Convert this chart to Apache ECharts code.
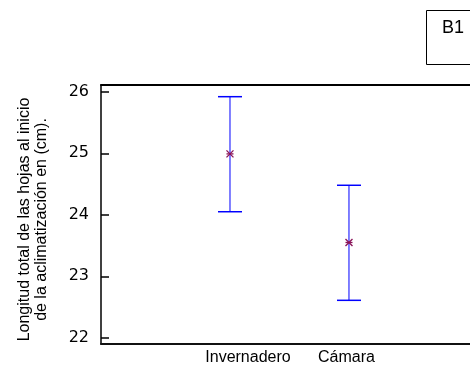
<!DOCTYPE html>
<html>
<head>
<meta charset="utf-8">
<script src="https://cdn.jsdelivr.net/npm/echarts@6/dist/echarts.min.js"></script>
<style>
html,body{margin:0;padding:0;background:#fff;}
#chart{width:470px;height:369px;}
</style>
</head>
<body>
<div id="chart"></div>
<script>
// ---- data ----
const categories = ['Invernadero', 'Cámara'];
const means = [24.99, 23.55];
const lowers = [24.05, 22.61];
const uppers = [25.92, 24.48];
const yTicks = [22, 23, 24, 25, 26];
const panelLabel = 'B1';
const yTitle = 'Longitud total de las hojas al inicio\nde la aclimatización en (cm).';

const FONT = 'Liberation Sans, Arial, sans-serif';
const xPos = categories.map((c, i) => i + 1);
const seriesData = categories.map((c, i) => [xPos[i], means[i], lowers[i], uppers[i]]);

function renderItem(params, api) {
  const x = api.value(0);
  const pm = api.coord([x, api.value(1)]);
  const pl = api.coord([x, api.value(2)]);
  const ph = api.coord([x, api.value(3)]);
  const cw = 12;
  const s = 3.5;
  const blue = '#0000ff';
  const star = '#8a1458';
  return {
    type: 'group',
    children: [
      {type: 'line', shape: {x1: pl[0], y1: pl[1], x2: ph[0], y2: ph[1]}, style: {stroke: blue, lineWidth: 1}},
      {type: 'line', shape: {x1: pl[0] - cw, y1: pl[1], x2: pl[0] + cw, y2: pl[1]}, style: {stroke: blue, lineWidth: 1.5}},
      {type: 'line', shape: {x1: ph[0] - cw, y1: ph[1], x2: ph[0] + cw, y2: ph[1]}, style: {stroke: blue, lineWidth: 1.5}},
      {type: 'line', shape: {x1: pm[0] - s, y1: pm[1] - s, x2: pm[0] + s, y2: pm[1] + s}, style: {stroke: star, lineWidth: 1.3}},
      {type: 'line', shape: {x1: pm[0] - s, y1: pm[1] + s, x2: pm[0] + s, y2: pm[1] - s}, style: {stroke: star, lineWidth: 1.3}},
      {type: 'line', shape: {x1: pm[0] - s, y1: pm[1], x2: pm[0] + s, y2: pm[1]}, style: {stroke: star, lineWidth: 1.3}}
    ]
  };
}

const chart = echarts.init(document.getElementById('chart'), null, {renderer: 'canvas'});
const xMin = -0.084, xMax = 3.017;
chart.setOption({
  animation: false,
  backgroundColor: '#fff',
  textStyle: {fontFamily: FONT},
  title: {
    text: panelLabel,
    left: 426, top: 11,
    padding: [9, 40, 27, 16],
    borderColor: '#000', borderWidth: 1,
    textStyle: {fontFamily: FONT, fontSize: 18, fontWeight: 'normal', color: '#000', lineHeight: 17}
  },
  grid: {left: 101, top: 85, right: 0, bottom: 25, containLabel: false},
  xAxis: [{
    type: 'value', min: xMin, max: xMax, position: 'bottom',
    splitLine: {show: false},
    axisLine: {show: true, lineStyle: {color: '#111', width: 2}},
    axisTick: {show: false},
    axisLabel: {
      customValues: xPos,
      margin: 6,
      color: '#000', fontSize: 16, fontFamily: FONT,
      formatter: function (v) {
        const i = xPos.indexOf(v);
        if (i < 0) return '';
        return i === 0 ? '{a|' + categories[i] + '}' : '{b|' + categories[i] + '}';
      },
      rich: {
        a: {padding: [0, 0, 0, 36], fontSize: 16, fontFamily: FONT, color: '#000'},
        b: {padding: [0, 5, 0, 0], fontSize: 16, fontFamily: FONT, color: '#000'}
      }
    }
  }, {
    type: 'value', min: xMin, max: xMax, position: 'top',
    splitLine: {show: false},
    axisLine: {show: true, onZero: false, lineStyle: {color: '#000', width: 2}},
    axisTick: {show: false},
    axisLabel: {show: false}
  }],
  yAxis: {
    type: 'value', min: 21.9, max: 26.11,
    splitLine: {show: false},
    axisLine: {show: true, onZero: false, lineStyle: {color: '#000', width: 1.5}},
    axisTick: {show: true, inside: true, length: 8, customValues: yTicks, lineStyle: {color: '#000', width: 1.5}},
    axisLabel: {customValues: yTicks, margin: 12, color: '#000', fontSize: 16, fontFamily: 'DejaVu Sans, sans-serif'},
    name: yTitle,
    nameLocation: 'middle',
    nameRotate: 90,
    nameGap: 51,
    nameTextStyle: {color: '#000', fontSize: 16, lineHeight: 17, fontFamily: FONT, align: 'center', padding: [0, 10, 0, 0]}
  },
  series: [{
    type: 'custom',
    renderItem: renderItem,
    data: seriesData,
    encode: {x: 0, y: [1, 2, 3]},
    clip: false
  }]
});
</script>
</body>
</html>
